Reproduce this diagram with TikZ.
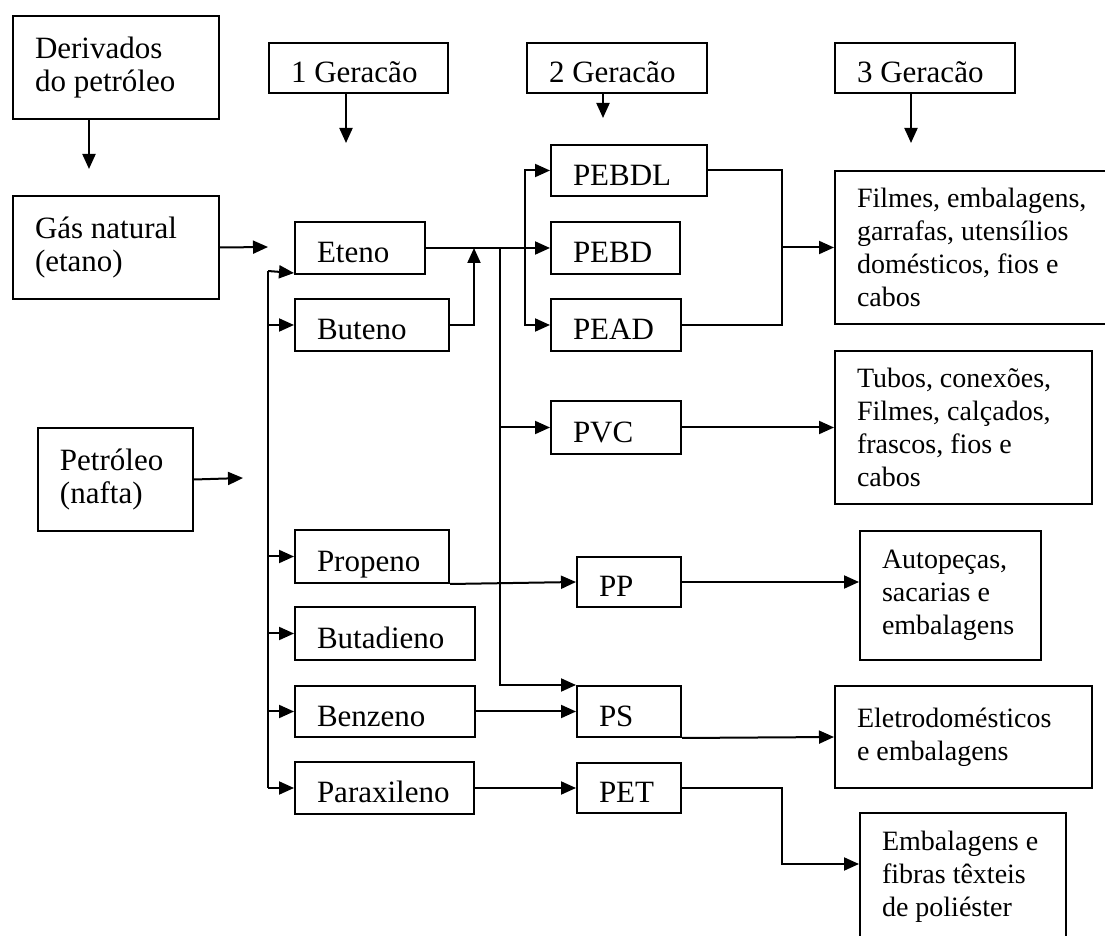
\documentclass[tikz,border=0pt]{standalone}
\usepackage{fontspec}
\setmainfont{Liberation Serif}
\usetikzlibrary{arrows.meta}

\begin{document}
\begin{tikzpicture}[x=0.5pt, y=-0.5pt, line width=1pt,
  box/.style 2 args={draw, rectangle, anchor=north west, align=flush left, inner xsep=11pt, inner ysep=0pt,
    text width=#1, minimum height=#2, font=\fontsize{15.5}{16.5}\selectfont},
  one/.style={text height=15pt, text depth=0pt},
  use/.style={font=\fontsize{14}{16.5}\selectfont},
  arr/.style={-{Triangle[length=7.5pt,width=6.5pt]}}]
\useasboundingbox (0,0) rectangle (1105,936);

\node (deriv) [box={81pt}{51.5pt}] at (12,15) {Derivados\\do petróleo};
\node (gen1) [box={67.5pt}{25pt}, one] at (268,42) {1 Geracão};
\node (gen2) [box={68pt}{25pt}, one] at (526,42) {2 Geracão};
\node (gen3) [box={68pt}{25pt}, one] at (834,42) {3 Geracão};
\node (gas) [box={81pt}{51.5pt}] at (12,195) {Gás natural\\(etano)};
\node (petro) [box={55.5pt}{51.5pt}] at (37,427) {Petróleo\\(nafta)};

\node (eteno) [box={43pt}{26pt}, one] at (294,221) {Eteno};
\node (buteno) [box={55pt}{26pt}, one] at (294,298) {Buteno};
\node (propeno) [box={55pt}{26.5pt}, one] at (294,529) {Propeno};
\node (butadieno) [box={68pt}{26.5pt}, one] at (294,606) {Butadieno};
\node (benzeno) [box={68pt}{25.5pt}, one] at (294,685) {Benzeno};
\node (paraxileno) [box={67.5pt}{26pt}, one] at (294,761) {Paraxileno};

\node (pebdl) [box={56pt}{25.5pt}, one] at (550,144) {PEBDL};
\node (pebd) [box={42.5pt}{26pt}, one] at (550,221) {PEBD};
\node (pead) [box={43pt}{26pt}, one] at (550,298) {PEAD};
\node (pvc) [box={43pt}{26.5pt}, one] at (550,400) {PVC};
\node (pp) [box={30pt}{25pt}, one] at (576,556) {PP};
\node (ps) [box={30pt}{25.5pt}, one] at (576,685) {PS};
\node (pet) [box={30pt}{25pt}, one] at (576,762) {PET};

\node (filmes) [box={118pt}{76.5pt}, use] at (834,170) {Filmes, embalagens,\\garrafas, utensílios\\domésticos, fios e\\cabos};
\node (tubos) [box={106.5pt}{76.5pt}, use] at (834,350) {Tubos, conexões,\\Filmes, calçados,\\frascos, fios e\\cabos};
\node (auto) [box={68.5pt}{64.5pt}, use] at (859,530) {Autopeças,\\sacarias e\\embalagens};
\node (eletro) [box={106.5pt}{51pt}, use] at (834,685) {Eletrodomésticos\\e embalagens};
\node (emb) [box={81pt}{64pt}, use] at (859,812) {Embalagens e\\fibras têxteis\\de poliéster};

\coordinate (d1) at (89,169);
\coordinate (g1) at (346,143);
\coordinate (g2) at (603,118);
\coordinate (g3) at (911,143);
\coordinate (gasend) at (268,247);
\coordinate (petroend) at (243,478);
\coordinate (busL) at (268,271);
\coordinate (butj) at (474,0);
\coordinate (busM) at (500,0);
\coordinate (busP) at (525,0);
\coordinate (busR) at (782,0);
\coordinate (petturn) at (782,864);

\draw[arr] (d1 |- deriv.south) -- (d1);
\draw[arr] (g1 |- gen1.south) -- (g1);
\draw[arr] (g2 |- gen2.south) -- (g2);
\draw[arr] (g3 |- gen3.south) -- (g3);
\draw[arr] (gas.east) -- (gasend);
\draw[arr] (petro.east) -- (petroend);

\draw (busL) -- (busL |- paraxileno.west);
\draw[arr] (busL) -- ([yshift=1pt]eteno.south west);
\foreach \n in {buteno, propeno, butadieno, benzeno, paraxileno}
  \draw[arr] (busL |- \n.west) -- (\n.west);

\draw[arr] (eteno.east) -- (pebd.west);
\draw[arr] (buteno.east) -| (butj |- eteno.east);
\draw[arr] (busM |- eteno.east) |- (ps.north west);
\draw[arr] (busM |- pvc.west) -- (pvc.west);
\draw[arr] (busP |- pebd.west) |- (pebdl.west);
\draw[arr] (busP |- pebd.west) |- (pead.west);

\draw[arr] (propeno.south east) -- (pp.west);
\draw[arr] (benzeno.east) -- (ps.west);
\draw[arr] (paraxileno.east) -- (pet.west);

\draw (pebdl.east) -| (busR |- pead.east) -- (pead.east);
\draw[arr] (busR |- filmes.west) -- (filmes.west);
\draw[arr] (pvc.east) -- (tubos.west);
\draw[arr] (pp.east) -- (pp.east -| auto.west);
\draw[arr] (ps.south east) -- (eletro.west);
\draw[arr] (pet.east) -| (petturn) -- (petturn -| emb.west);
\end{tikzpicture}
\end{document}
